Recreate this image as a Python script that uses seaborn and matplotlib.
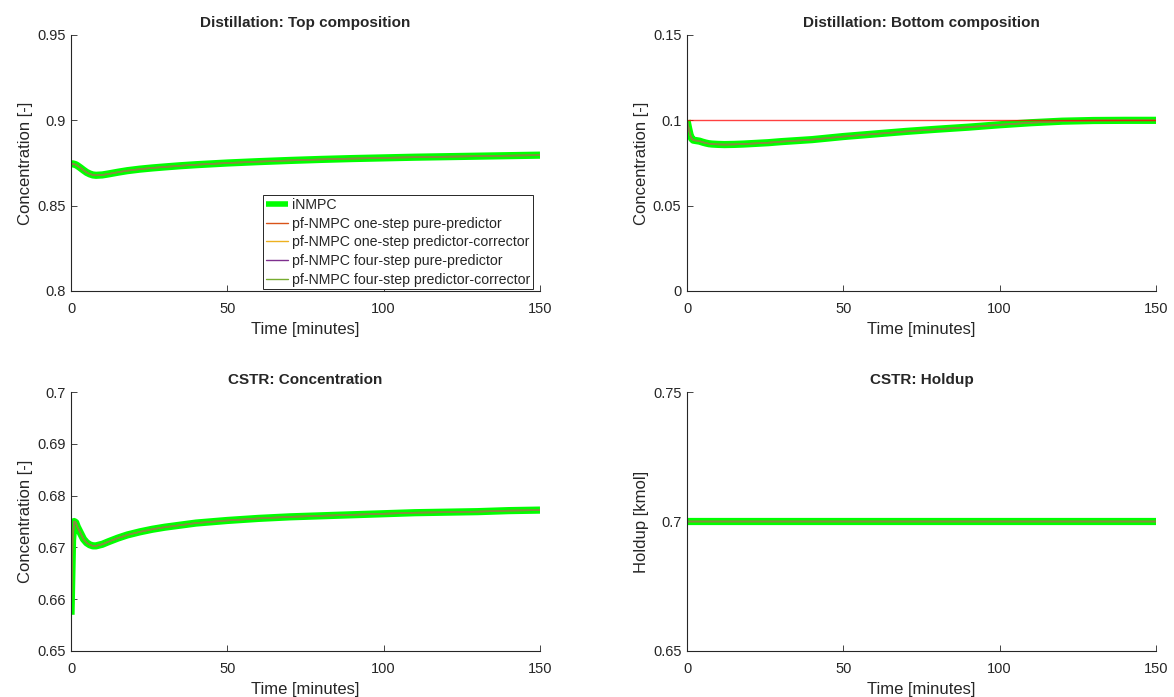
import matplotlib
matplotlib.use("Agg")
import matplotlib.pyplot as plt
from matplotlib.ticker import FuncFormatter
from matplotlib.lines import Line2D
import numpy as np
import pandas as pd
import seaborn as sns

# time samples [minutes]
t = [0, 0.5, 1, 1.5, 2, 3, 4, 5, 6, 7, 8, 10, 12, 15, 18, 22, 26, 30, 35, 40,
     50, 60, 70, 80, 90, 100, 110, 120, 130, 140, 150]

top_comp = [0.8745, 0.8745, 0.8743, 0.8740, 0.8735, 0.8722, 0.8708, 0.8695, 0.8686, 0.8680,
            0.8678, 0.8680, 0.8686, 0.8696, 0.8705, 0.8714, 0.8721, 0.8727, 0.8734, 0.8740,
            0.8750, 0.8758, 0.8765, 0.8771, 0.8776, 0.8780, 0.8784, 0.8787, 0.8790, 0.8793, 0.8796]

bottom_comp = [0.1000, 0.0955, 0.0915, 0.0893, 0.0884, 0.0881, 0.0878, 0.0872, 0.0867, 0.0863,
               0.0861, 0.0859, 0.0858, 0.0859, 0.0861, 0.0865, 0.0869, 0.0875, 0.0881, 0.0887,
               0.0905, 0.0920, 0.0935, 0.0948, 0.0960, 0.0974, 0.0986, 0.0995, 0.0999, 0.1000, 0.1000]

cstr_conc = [0.6570, 0.6715, 0.6750, 0.6748, 0.6740, 0.6728, 0.6716, 0.6709, 0.6705, 0.6703,
             0.6703, 0.6706, 0.6711, 0.6718, 0.6724, 0.6730, 0.6735, 0.6739, 0.6743, 0.6747,
             0.6752, 0.6756, 0.6759, 0.6761, 0.6763, 0.6765, 0.6767, 0.6768, 0.6769, 0.6771, 0.6772]

cstr_holdup = [0.7] * len(t)

bottom_setpoint = [0.1, 0.1]
setpoint_t = [0, 150]

series = ["iNMPC",
          "pf-NMPC one-step pure-predictor",
          "pf-NMPC one-step predictor-corrector",
          "pf-NMPC four-step pure-predictor",
          "pf-NMPC four-step predictor-corrector"]
colors = ["#00FF00", "#D95319", "#EDB120", "#7E2F8E", "#77AC30"]

panels = [
    ("Distillation: Top composition", top_comp, "Concentration [-]", (0.8, 0.95), [0.8, 0.85, 0.9, 0.95]),
    ("Distillation: Bottom composition", bottom_comp, "Concentration [-]", (0, 0.15), [0, 0.05, 0.1, 0.15]),
    ("CSTR: Concentration", cstr_conc, "Concentration [-]", (0.65, 0.7),
     [0.65, 0.66, 0.67, 0.68, 0.69, 0.7]),
    ("CSTR: Holdup", cstr_holdup, "Holdup [kmol]", (0.65, 0.75), [0.65, 0.7, 0.75]),
]

sns.set_style("ticks")
plt.rcParams['font.family'] = ['Liberation Sans', 'DejaVu Sans']

fig = plt.figure(figsize=(11.74, 6.97), dpi=100)
W, H = 1174, 697
boxes = [(71, 35, 256), (687, 35, 256), (71, 392, 259), (687, 392, 259)]
aw = 469

ink = "#262626"
for (title, y, ylab, ylim, yticks), (x0, y0, ah) in zip(panels, boxes):
    ax = fig.add_axes([x0 / W, 1 - (y0 + ah) / H, aw / W, ah / H])
    df = pd.DataFrame({"t": t, "y": y})
    sns.lineplot(data=df, x="t", y="y", ax=ax, color=colors[0], lw=5.2, snap=False,
                 solid_capstyle="butt", solid_joinstyle="round")
    for c in colors[1:]:
        sns.lineplot(data=df, x="t", y="y", ax=ax, color=c, lw=1.1, alpha=0.55, snap=False)
    if title == "Distillation: Bottom composition":
        sns.lineplot(x=setpoint_t, y=bottom_setpoint, ax=ax, color="red", lw=1.0, alpha=0.75)
    ax.set_xlim(0, 150)
    ax.set_ylim(*ylim)
    ax.set_xticks([0, 50, 100, 150])
    ax.set_yticks(yticks)
    ax.yaxis.set_major_formatter(FuncFormatter(lambda v, p: f"{v:g}"))
    ax.xaxis.set_major_formatter(FuncFormatter(lambda v, p: f"{v:g}"))
    ax.tick_params(direction="in", length=4, width=0.6, labelsize=10.5, colors=ink)
    ax.tick_params(axis="x", pad=8)
    ax.tick_params(axis="y", pad=4)
    for s in ["top", "right"]:
        ax.spines[s].set_visible(False)
    for s in ["left", "bottom"]:
        ax.spines[s].set_color(ink)
        ax.spines[s].set_linewidth(0.8)
    ax.set_title(title, fontsize=11, fontweight="bold", pad=6)
    ax.set_xlabel("Time [minutes]", fontsize=12, color=ink, labelpad=4)
    ax.set_ylabel(ylab, fontsize=12, color=ink, labelpad=3)

    if title == "Distillation: Top composition":
        handles = [Line2D([], [], color=colors[0], lw=4, solid_capstyle="butt")] + \
                  [Line2D([], [], color=c, lw=1) for c in colors[1:]]
        leg = ax.legend(handles, series, loc="lower right", bbox_to_anchor=(0.985, 0.006),
                        fontsize=10.2, frameon=True, fancybox=False, edgecolor=ink,
                        framealpha=1, handlelength=1.55, handletextpad=0.3,
                        labelspacing=0.33, borderpad=0.2, borderaxespad=0)
        leg.get_frame().set_linewidth(0.7)

fig.savefig("out.png", dpi=100)
